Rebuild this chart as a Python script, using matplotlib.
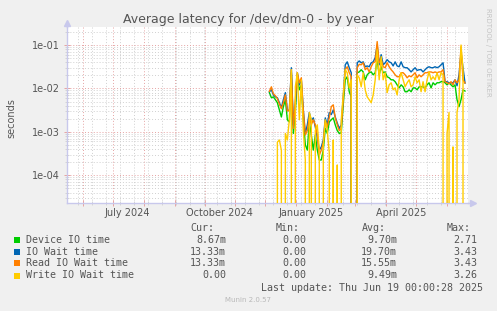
import matplotlib
matplotlib.use('Agg')
import matplotlib.pyplot as plt
import matplotlib.dates as mdates
from matplotlib.patches import Rectangle
from matplotlib.ticker import LogLocator, FuncFormatter, NullFormatter, FixedLocator
import pandas as pd

W, H = 497, 311

# daily samples, every second day from Dec 5 2024 up to Jun 19 2025
dates = pd.date_range('2024-12-05', periods=99, freq='2D')

device_io = [
    .0080, .0061, .0064, .0055, .0047, .0032, .0022, .0038, .0055, .0019,
    .0017, .023, .00092, .0029, .0176, .0093, .0121, .0021, .0005, .00038,
    .0017, .00085, .00038, .00085, .00038, .000225, .000225, .00038, .0012, .00092,
    .0017, .0019, .0021, .00145, .00107, .00092, .00095, .0042, .0158, .0186,
    .0084, .0064, 0, 0, .023, .024, .027, .024, .0158, .0206,
    .023, .024, .0206, .023, .046, .0206, .0316, .023, .024, .0186,
    .0176, .0158, .0158, .0143, .0121, .0103, .0121, .0109, .0084, .0084,
    .0093, .0084, .0103, .0103, .0093, .0109, .0109, .0109, .0103, .0121,
    .0135, .0103, .0135, .0121, .0135, .0135, .0143, .0143, .0135, .0121,
    .0135, .0121, .0109, .0121, .0055, .0038, .0055, .0093, .0087,
]
io_wait = [
    .0084, .0093, .0071, .0064, .0061, .0047, .0036, .0055, .0080, .0032,
    .0030, .030, .00145, .0042, .023, .0121, .0158, .0032, .00092, .00145,
    .0028, .0018, .0021, .0013, .00076, .00038, .00045, .00065, .0021, .00145,
    .0028, .0025, .0032, .0022, .0016, .0012, .00145, .0064, .035, .041,
    .030, .023, 0, 0, .039, .043, .039, .041, .0316, .033,
    .0316, .039, .041, .051, .10, .035, .060, .035, .039, .046,
    .041, .039, .033, .041, .033, .0316, .041, .0316, .030, .030,
    .027, .024, .027, .030, .026, .027, .027, .024, .027, .030,
    .0316, .030, .030, .0316, .030, .0316, .035, .039, .0143, .0143,
    .0135, .0135, .0135, .0158, .0115, .0206, .066, .030, .0133,
]
read_wait = [
    .0086, .0109, .0075, .0068, .0058, .0044, .0034, .0047, .0071, .0030,
    .0032, .027, .0012, .0055, .023, .0135, .0176, .0030, .00085, .00107,
    .0022, .00145, .0019, .00145, .00085, .00029, .00038, .00056, .0018, .0013,
    .0021, .0038, .0042, .0021, .00145, .00107, .0012, .0055, .027, .0316,
    .023, .0186, 0, 0, .030, .036, .035, .039, .027, .030,
    .024, .0316, .039, .041, .12, .039, .046, .0316, .030, .039,
    .0316, .027, .024, .0206, .0186, .0186, .023, .023, .0206, .0176,
    .0196, .0186, .0206, .023, .0176, .0206, .0186, .0206, .023, .023,
    .024, .024, .023, .024, .023, .024, .024, .027, .0143, .0135,
    .0128, .0143, .0121, .0158, .0135, .0158, .091, .0158, .0133,
]
write_wait = [
    0, 0, 0, 0, .00058, .00065, .00038, 0, .00092, .00065,
    .0019, .027, 0, .0109, .023, .0019, .0158, .00107, .000225, 0,
    .0028, .0019, 0, .00107, .00145, .00038, 0, .0005, .0019, .00107,
    .00033, 0, .00065, 0, .000173, 0, .0019, .0071, .027, .023,
    .0103, .0158, 0, 0, .0206, .0176, .0109, .023, .0093, .0064,
    .0055, .0047, .0071, .0158, .078, .0158, .054, .0158, .023, .0080,
    .0121, .0135, .0093, .0103, .0071, .0158, .023, .0158, .0109, .0135,
    .0158, .0109, .0121, .0186, .0135, .0158, .0084, .0143, .0084, .0158,
    .024, .0158, .0186, .0158, .023, .0158, .023, .0206, 0, .00092,
    .0028, 0, .00045, 0, .0028, .0055, .10, .027, 0,
]

labels = ['Device IO time', 'IO Wait time', 'Read IO Wait time', 'Write IO Wait time']
colors = ['#00cc00', '#0066b3', '#ff8000', '#ffcc00']
cur = ['8.67m', '13.33m', '13.33m', '0.00']
mins = ['0.00', '0.00', '0.00', '0.00']
avgs = ['9.70m', '19.70m', '15.55m', '9.49m']
maxs = ['2.71', '3.43', '3.43', '3.26']

month_labels = ['July 2024', 'October 2024', 'January 2025', 'April 2025']
month_label_dates = pd.to_datetime(['2024-07-16', '2024-10-16', '2025-01-16', '2025-04-16'])


def px(x, y):
    return x / W, 1 - y / H


text_col = '#555555'
fig = plt.figure(figsize=(W / 100, H / 100), dpi=100, facecolor='#f0f0f0')
ax = fig.add_axes([67 / W, 1 - 203 / H, (468 - 67) / W, (203 - 27) / H], facecolor='white')

for vals, c in zip([device_io, io_wait, read_wait, write_wait], colors):
    ax.plot(dates, vals, color=c, lw=1.0, zorder=3)

ax.set_yscale('log')
ax.set_ylim(2.3e-5, 0.26)
ax.set_xlim(pd.Timestamp('2024-05-16 05:00'), pd.Timestamp('2025-06-22'))

ax.yaxis.set_major_locator(LogLocator(base=10, numticks=10))
ax.yaxis.set_minor_locator(LogLocator(base=10, subs=range(2, 10), numticks=20))
ax.yaxis.set_major_formatter(FuncFormatter(lambda v, _: f'{v:.0e}'))
ax.yaxis.set_minor_formatter(NullFormatter())

# red lines on month starts, grey lines every second monday
ax.xaxis.set_major_locator(mdates.MonthLocator())
biweekly = pd.date_range('2024-05-13', '2025-06-30', freq='14D')
ax.xaxis.set_minor_locator(FixedLocator(mdates.date2num(biweekly)))
ax.xaxis.set_major_formatter(plt.NullFormatter())

red = '#e6a3a3'
grey = '#d0d0d0'
ax.grid(which='major', color=red, linestyle=(0, (1, 2)), lw=0.7, zorder=1)
ax.grid(which='minor', color=grey, linestyle=(0, (1, 2)), lw=0.7, zorder=0)

ax.tick_params(which='major', direction='inout', length=4, width=0.7, color=red,
               labelsize=7, labelcolor=text_col, pad=3)
ax.tick_params(which='minor', direction='inout', length=3, width=0.6, color=grey)

for d, lab in zip(month_label_dates, month_labels):
    ax.text(d, -0.055, lab, transform=ax.get_xaxis_transform(), ha='center', va='center',
            fontsize=7, color=text_col)

axis_col = '#c8c8ec'
for s in ['top', 'right']:
    ax.spines[s].set_visible(False)
for s in ['left', 'bottom']:
    ax.spines[s].set_color(axis_col)
    ax.spines[s].set_linewidth(1.0)
ax.plot([1.0, 1.012], [0, 0], color=axis_col, lw=1, transform=ax.transAxes, clip_on=False)
ax.plot([1.012], [0], marker='>', ms=4, color=axis_col, transform=ax.transAxes, clip_on=False)
ax.plot([0, 0], [1.0, 1.025], color=axis_col, lw=1, transform=ax.transAxes, clip_on=False)
ax.plot([0], [1.025], marker='^', ms=4, color=axis_col, transform=ax.transAxes, clip_on=False)

fig.text(*px(248.5, 20), 'Average latency for /dev/dm-0 - by year', ha='center', va='center',
         fontsize=9, color=text_col)
fig.text(*px(11.5, 118), 'seconds', rotation=90, ha='center', va='center', fontsize=7, color=text_col)
fig.text(*px(488, 52), 'RRDTOOL / TOBI OETIKER', rotation=270, ha='center', va='center',
         fontsize=5, color='#c4c4c4')

mono = 'DejaVu Sans Mono'
fs = 7.2
for x, h in zip([190, 276, 362, 447], ['Cur:', 'Min:', 'Avg:', 'Max:']):
    fig.text(*px(x, 228), h, ha='left', va='center', family=mono, fontsize=fs, color=text_col)

row_y = [240, 251.7, 263.3, 275.5]
for i in range(4):
    y = row_y[i]
    fig.add_artist(Rectangle(px(14, y + 3), 6 / W, 6 / H, transform=fig.transFigure,
                             facecolor=colors[i], edgecolor='none'))
    fig.text(*px(26, y), labels[i], ha='left', va='center', family=mono, fontsize=fs, color=text_col)
    fig.text(*px(226, y), cur[i], ha='right', va='center', family=mono, fontsize=fs, color=text_col)
    fig.text(*px(306, y), mins[i], ha='right', va='center', family=mono, fontsize=fs, color=text_col)
    fig.text(*px(397, y), avgs[i], ha='right', va='center', family=mono, fontsize=fs, color=text_col)
    fig.text(*px(477, y), maxs[i], ha='right', va='center', family=mono, fontsize=fs, color=text_col)

fig.text(*px(483, 287.7), 'Last update: Thu Jun 19 00:00:28 2025', ha='right', va='center',
         family=mono, fontsize=fs, color=text_col)
fig.text(*px(248, 300), 'Munin 2.0.57', ha='center', va='center', fontsize=5, color='#b8b8b8')

fig.savefig('out.png', dpi=100, facecolor=fig.get_facecolor())
